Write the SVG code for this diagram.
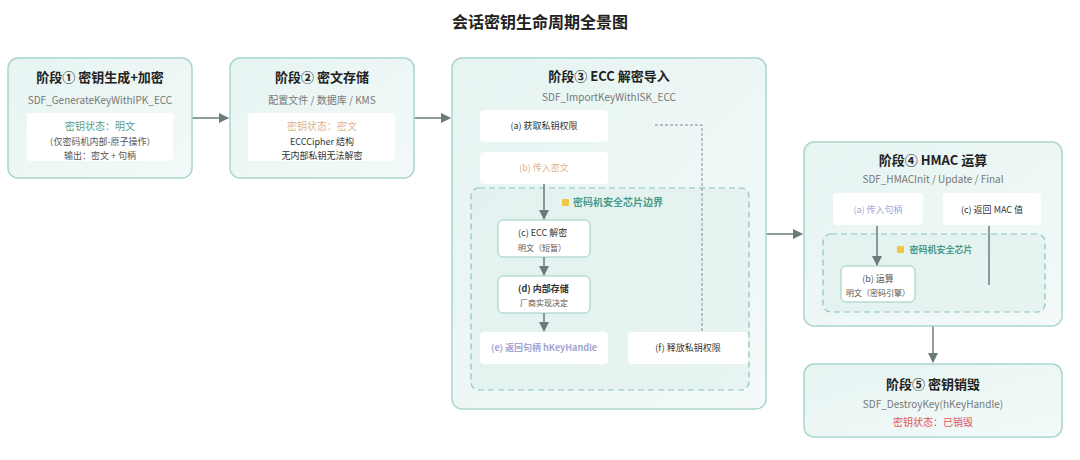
<svg xmlns="http://www.w3.org/2000/svg" width="1080" height="460" viewBox="0 0 1080 460">
<defs>
<linearGradient id="g" x1="0" y1="0" x2="1" y2="1"><stop offset="0" stop-color="#e6f4f2"/><stop offset="1" stop-color="#f3faf9"/></linearGradient>
<marker id="ah" viewBox="0 0 10 10" refX="9" refY="5" markerWidth="7" markerHeight="7" orient="auto"><path d="M0,0L10,5L0,10z" fill="#6b7b7b"/></marker>
<style>
text{font-family:"Noto Sans CJK SC","Liberation Sans",sans-serif;text-anchor:middle}
.l{text-anchor:start}
.st{fill:url(#g);stroke:#a9d6cf;stroke-width:1.5}
.in{fill:#fff;stroke:none}
.inb{fill:#fff;stroke:#9ccbc3;stroke-width:1}
.zone{fill:#dff0ed;fill-opacity:.6;stroke:#8cc4ba;stroke-width:1.2;stroke-dasharray:6 4}
.t{font-size:13px;font-weight:bold;fill:#222}
.s{font-size:10px;fill:#777}
.n{font-size:9px;fill:#333}
.sm{font-size:8px;fill:#555}
.c{stroke:#6b7b7b;stroke-width:1.5;fill:none}
</style>
</defs>
<text x="540" y="28" style="font-size:16px;font-weight:bold;fill:#222">会话密钥生命周期全景图</text>
<g id="connectors">
<line class="c" x1="192" y1="118" x2="228" y2="118" marker-end="url(#ah)"/>
<line class="c" x1="414" y1="118" x2="450" y2="118" marker-end="url(#ah)"/>
<line class="c" x1="766" y1="234" x2="802" y2="234" marker-end="url(#ah)"/>
<line class="c" x1="933" y1="326" x2="933" y2="362" marker-end="url(#ah)"/>
</g>
<g id="stage1">
<rect class="st" x="8" y="58" width="184" height="120" rx="10"/>
<text class="t" x="100" y="82">阶段① 密钥生成+加密</text>
<text class="s" x="100" y="104">SDF_GenerateKeyWithIPK_ECC</text>
<rect class="in" x="27" y="113" width="146" height="48" rx="3"/>
<text x="100" y="130" style="font-size:10px;fill:#5a9e8a">密钥状态：明文</text>
<text class="n" x="100" y="145" style="fill:#555">（仅密码机内部-原子操作）</text>
<text class="n" x="100" y="159" style="fill:#555">输出：密文 + 句柄</text>
</g>
<g id="stage2">
<rect class="st" x="230" y="58" width="184" height="120" rx="10"/>
<text class="t" x="322" y="82">阶段② 密文存储</text>
<text class="s" x="322" y="104">配置文件 / 数据库 / KMS</text>
<rect class="in" x="248" y="113" width="147" height="48" rx="3"/>
<text x="322" y="130" style="font-size:10px;fill:#e0b48c">密钥状态：密文</text>
<text class="n" x="322" y="145">ECCCipher 结构</text>
<text class="n" x="322" y="159">无内部私钥无法解密</text>
</g>
<g id="stage3">
<rect class="st" x="452" y="58" width="314" height="351" rx="10"/>
<text class="t" x="609" y="81">阶段③ ECC 解密导入</text>
<text class="s" x="609" y="101">SDF_ImportKeyWithISK_ECC</text>
<rect class="zone" x="471" y="188" width="278" height="202" rx="8"/>
<rect x="562" y="199" width="7" height="7" rx="1" fill="#f4c542"/>
<text x="618" y="206" style="font-size:10px;font-weight:bold;fill:#4a9a8a">密码机安全芯片边界</text>
<path d="M655,125H702V335" fill="none" stroke="#889" stroke-width="1" stroke-dasharray="3 2"/>
<g id="s3a"><rect class="in" x="480" y="110" width="128" height="32" rx="4"/><text class="n" x="544" y="129">(a) 获取私钥权限</text></g>
<g id="s3b"><rect class="in" x="480" y="152" width="128" height="32" rx="4"/><text class="n" x="544" y="171" style="fill:#e0b48c">(b) 传入密文</text></g>
<g id="s3c"><rect class="inb" x="498" y="220" width="92" height="37" rx="5"/><text class="n l" x="518" y="236">(c) ECC 解密</text><text class="sm l" x="518" y="251">明文（短暂）</text></g>
<g id="s3d"><rect class="inb" x="498" y="276" width="92" height="37" rx="5"/><text class="n l" x="518" y="292" style="font-weight:bold">(d) 内部存储</text><text class="sm l" x="520" y="306">厂商实现决定</text></g>
<g id="s3e"><rect class="in" x="480" y="332" width="128" height="32" rx="4"/><text class="n" x="544" y="351" style="fill:#a3a6cf;font-weight:bold">(e) 返回句柄 hKeyHandle</text></g>
<g id="s3f"><rect class="in" x="628" y="332" width="120" height="32" rx="4"/><text class="n" x="688" y="351">(f) 释放私钥权限</text></g>
<line class="c" x1="544" y1="184" x2="544" y2="219" marker-end="url(#ah)"/>
<line class="c" x1="544" y1="257" x2="544" y2="275" marker-end="url(#ah)"/>
<line class="c" x1="544" y1="313" x2="544" y2="331" marker-end="url(#ah)"/>
</g>
<g id="stage4">
<rect class="st" x="804" y="142" width="258" height="184" rx="10"/>
<text class="t" x="933" y="165">阶段④ HMAC 运算</text>
<text class="s" x="933" y="183">SDF_HMACInit / Update / Final</text>
<rect class="zone" x="823" y="234" width="222" height="78" rx="8"/>
<rect x="897" y="246" width="7" height="7" rx="1" fill="#f4c542"/>
<text x="941" y="253" style="font-size:9px;font-weight:bold;fill:#4a9a8a">密码机安全芯片</text>
<g id="s4a"><rect class="in" x="833" y="193" width="90" height="32" rx="4"/><text class="n" x="878" y="213" style="fill:#a3a6cf">(a) 传入句柄</text></g>
<g id="s4c"><rect class="in" x="943" y="193" width="98" height="32" rx="4"/><text class="n" x="992" y="213">(c) 返回 MAC 值</text></g>
<g id="s4b"><rect class="inb" x="841" y="266" width="74" height="36" rx="5"/><text class="n" x="878" y="282" style="fill:#555">(b) 运算</text><text class="sm" x="878" y="296">明文（密码引擎）</text></g>
<line class="c" x1="877" y1="226" x2="877" y2="265" marker-end="url(#ah)"/>
<line class="c" x1="989" y1="226" x2="989" y2="285"/>
</g>
<g id="stage5">
<rect class="st" x="804" y="364" width="258" height="73" rx="10"/>
<text class="t" x="933" y="389">阶段⑤ 密钥销毁</text>
<text class="s" x="933" y="408">SDF_DestroyKey(hKeyHandle)</text>
<text x="933" y="426" style="font-size:10px;fill:#e05555">密钥状态：已销毁</text>
</g>
</svg>
